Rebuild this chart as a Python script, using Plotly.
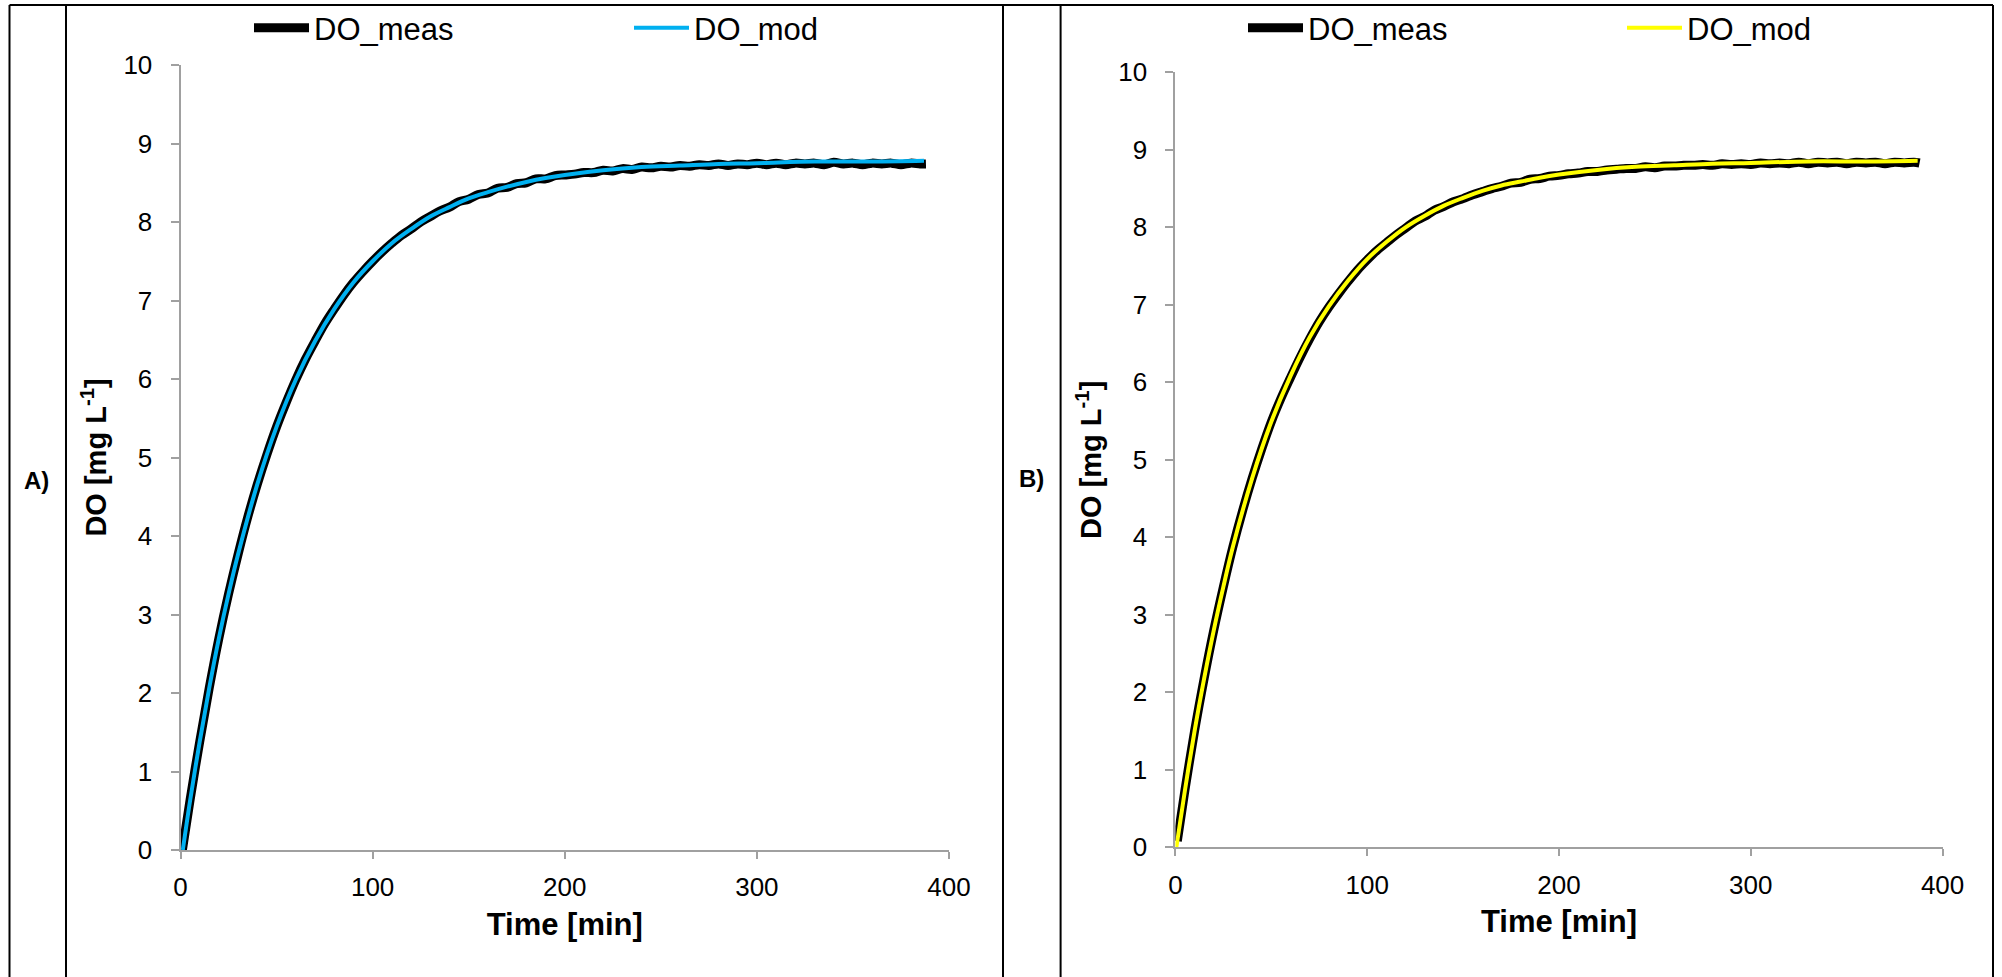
import plotly.graph_objects as go

# ---------------- data ----------------
t_meas = [1, 5, 10, 15, 20, 25, 30, 35, 40, 45, 50, 55, 60, 65, 70, 75, 80, 85, 90, 95,
          100, 105, 110, 115, 120, 125, 130, 135, 140, 145, 150, 155, 160, 165, 170, 175,
          180, 185, 190, 195, 200, 205, 210, 215, 220, 225, 230, 235, 240, 245, 250, 255,
          260, 265, 270, 275, 280, 285, 290, 295, 300, 305, 310, 315, 320, 325, 330, 335,
          340, 345, 350, 355, 360, 365, 370, 375, 380, 385, 388]

do_meas_a = [0.00, 0.64, 1.38, 2.07, 2.70, 3.26, 3.77, 4.24, 4.66, 5.04, 5.39, 5.70, 5.99, 6.25,
             6.48, 6.70, 6.89, 7.07, 7.23, 7.37, 7.50, 7.62, 7.73, 7.83, 7.91, 8.00, 8.07, 8.14,
             8.19, 8.26, 8.29, 8.35, 8.37, 8.43, 8.44, 8.49, 8.50, 8.55, 8.55, 8.59, 8.60, 8.61,
             8.63, 8.63, 8.66, 8.65, 8.68, 8.67, 8.70, 8.69, 8.71, 8.70, 8.72, 8.71, 8.73, 8.72,
             8.74, 8.72, 8.74, 8.73, 8.75, 8.73, 8.75, 8.73, 8.75, 8.74, 8.75, 8.73, 8.76, 8.74,
             8.75, 8.73, 8.75, 8.74, 8.75, 8.73, 8.75, 8.74, 8.74]

do_meas_b = [0.08, 0.74, 1.50, 2.18, 2.80, 3.36, 3.88, 4.34, 4.76, 5.14, 5.49, 5.79, 6.06, 6.32,
             6.56, 6.78, 6.97, 7.14, 7.30, 7.45, 7.58, 7.70, 7.80, 7.90, 7.99, 8.08, 8.14, 8.22,
             8.27, 8.33, 8.37, 8.42, 8.46, 8.50, 8.53, 8.57, 8.58, 8.62, 8.63, 8.66, 8.67, 8.69,
             8.70, 8.72, 8.72, 8.74, 8.75, 8.76, 8.76, 8.78, 8.77, 8.79, 8.79, 8.80, 8.80, 8.81,
             8.80, 8.82, 8.81, 8.82, 8.81, 8.83, 8.82, 8.83, 8.82, 8.84, 8.82, 8.84, 8.83, 8.84,
             8.82, 8.84, 8.83, 8.84, 8.82, 8.84, 8.83, 8.84, 8.83]

t_mod_a = [1.2, 5, 10, 15, 20, 25, 30, 40, 50, 60, 70, 80, 90, 100, 110, 120, 130, 140, 150,
           160, 170, 180, 190, 200, 220, 240, 260, 280, 300, 330, 360, 387]
do_mod_a = [0.00, 0.63, 1.38, 2.07, 2.70, 3.26, 3.77, 4.66, 5.39, 5.99, 6.48, 6.89, 7.23, 7.50,
            7.73, 7.91, 8.07, 8.19, 8.30, 8.38, 8.45, 8.51, 8.56, 8.60, 8.66, 8.70, 8.72, 8.74,
            8.75, 8.77, 8.77, 8.78]

t_mod_b = [0.5, 5, 10, 15, 20, 25, 30, 40, 50, 60, 70, 80, 90, 100, 110, 120, 130, 140, 150,
           160, 170, 180, 190, 200, 220, 240, 260, 280, 300, 330, 360, 387]
do_mod_b = [0.00, 0.74, 1.50, 2.18, 2.80, 3.36, 3.88, 4.76, 5.49, 6.08, 6.58, 6.98, 7.31, 7.59,
            7.81, 8.00, 8.15, 8.28, 8.38, 8.47, 8.54, 8.59, 8.64, 8.68, 8.74, 8.78, 8.80, 8.82,
            8.83, 8.85, 8.85, 8.86]

x_ticks = [0, 100, 200, 300, 400]
y_ticks = [0, 1, 2, 3, 4, 5, 6, 7, 8, 9, 10]
panel_labels = ["A)", "B)"]
series_names = ["DO_meas", "DO_mod"]
mod_colors = ["#00B0F0", "#FFFF00"]

# ---------------- layout helpers ----------------
W, H = 2002, 977
FONT = "Liberation Sans, Arial, sans-serif"


def px(x):
    return x / W


def py(y):
    return 1 - y / H


fig = go.Figure()

panels = [
    ("x", "y", t_meas, do_meas_a, t_mod_a, do_mod_a, "legend", "legend2"),
    ("x2", "y2", t_meas, do_meas_b, t_mod_b, do_mod_b, "legend3", "legend4"),
]
for i, (xa, ya, tm, dm, tmo, dmo, lg1, lg2) in enumerate(panels):
    fig.add_trace(go.Scatter(x=tm, y=dm, mode="lines", name=series_names[0],
                             line=dict(color="#000000", width=9, shape="spline"),
                             xaxis=xa, yaxis=ya, legend=lg1))
    fig.add_trace(go.Scatter(x=tmo, y=dmo, mode="lines", name=series_names[1],
                             line=dict(color=mod_colors[i], width=4, shape="spline"),
                             xaxis=xa, yaxis=ya, legend=lg2))

axis_common = dict(
    showgrid=False, zeroline=False, showline=True, linecolor="#a0a0a0", linewidth=2,
    ticks="outside", tickwidth=1.5, tickcolor="#a0a0a0",
    tickfont=dict(family=FONT, size=26, color="#000000"),
)

xdoms = [[px(180.5), px(949)], [px(1175.4), px(1942.6)]]
ydoms = [[py(850), py(65)], [py(847.3), py(72.3)]]

for i in range(2):
    sfx = "" if i == 0 else str(i + 1)
    fig.layout["xaxis" + sfx] = dict(
        axis_common, domain=xdoms[i], range=[0, 400], tickvals=x_ticks,
        anchor="y" + sfx, ticklen=7, ticklabelstandoff=6,
        title=dict(text="<b>Time [min]</b>", font=dict(family=FONT, size=31, color="#000"),
                   standoff=12),
    )
    fig.layout["yaxis" + sfx] = dict(
        axis_common, domain=ydoms[i], range=[0, 10], tickvals=y_ticks,
        anchor="x" + sfx, ticklen=8, ticklabelstandoff=13,
        title=dict(text="<b>DO [mg L<sup>-1</sup>]</b>",
                   font=dict(family=FONT, size=29, color="#000"), standoff=8),
    )

# legends (one per entry so each sits where the reference has it)
leg_x = [255, 635, 1249, 1628]
for j, name in enumerate(["legend", "legend2", "legend3", "legend4"]):
    fig.layout[name] = dict(
        x=px(leg_x[j] - 6), xanchor="left", y=py(28), yanchor="middle",
        orientation="h", itemwidth=55, bgcolor="rgba(0,0,0,0)",
        font=dict(family=FONT, size=31, color="#000000"),
    )

# table frame
frame = []
frame.append(dict(type="line", xref="paper", yref="paper", x0=px(9.5), x1=px(1993),
                  y0=py(5), y1=py(5), line=dict(color="#000", width=2)))
for xv in [9.5, 66, 1003, 1060.6, 1993]:
    frame.append(dict(type="line", xref="paper", yref="paper", x0=px(xv), x1=px(xv),
                      y0=py(5), y1=0, line=dict(color="#000", width=2)))

annotations = []
for lab, xc, yc in zip(panel_labels, [36.5, 1031.5], [480, 478]):
    annotations.append(dict(text="<b>" + lab + "</b>", x=px(xc), y=py(yc), xref="paper",
                            yref="paper", showarrow=False, xanchor="center", yanchor="middle",
                            font=dict(family=FONT, size=24, color="#000")))

fig.update_layout(
    width=W, height=H, margin=dict(l=0, r=0, t=0, b=0, autoexpand=False),
    paper_bgcolor="#ffffff", plot_bgcolor="#ffffff",
    font=dict(family=FONT, color="#000"),
    shapes=frame, annotations=annotations, showlegend=True,
)

fig.write_html("out.html", config={"displayModeBar": False},
               post_script="document.body.style.margin='0';document.body.style.overflow='hidden';")
